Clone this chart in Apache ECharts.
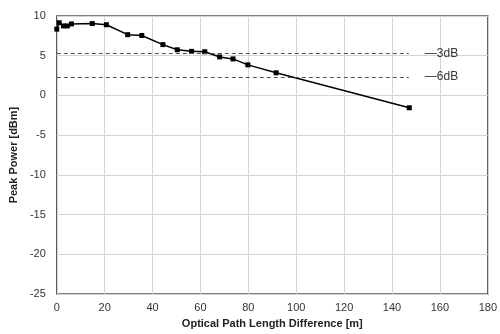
<!DOCTYPE html>
<html>
<head>
<meta charset="utf-8">
<script src="https://cdn.jsdelivr.net/npm/echarts@6/dist/echarts.min.js"></script>
<style>
  html, body { margin: 0; padding: 0; background: #fff; }
  #chart { width: 500px; height: 334px; }
</style>
</head>
<body>
<div id="chart"></div>
<script>
const pathDiff = [0, 1, 2.8, 4.4, 6.1, 14.8, 20.7, 29.6, 35.5, 44.3, 50.3, 56.3, 61.8, 68, 73.6, 79.8, 91.6, 147.2];
const peakPower = [8.35, 9.15, 8.75, 8.75, 9.0, 9.05, 8.9, 7.65, 7.55, 6.4, 5.75, 5.55, 5.5, 4.85, 4.6, 3.85, 2.85, -1.55];
const refLevels = [5.3, 2.3];
const refLabels = ["\u20143dB", "\u20146dB"];
const refEndX = 147;

const chart = echarts.init(document.getElementById("chart"));

const refLines = refLevels.map((v, i) => [
  { coord: [0, v] },
  { coord: [refEndX, v], label: { formatter: refLabels[i] } },
]);

const option = {
  animation: false,
  textStyle: { fontFamily: "Liberation Sans, Arial, sans-serif" },
  grid: {
    left: 56,
    right: 10,
    top: 16,
    bottom: 38,
    show: true,
    borderColor: "#555",
    borderWidth: 1.5,
  },
  xAxis: {
    type: "value",
    min: 0,
    max: 180,
    interval: 20,
    name: "Optical Path Length Difference [m]",
    nameLocation: "middle",
    nameGap: 22,
    nameTextStyle: { fontWeight: "bold", fontSize: 11, color: "#222" },
    axisLine: { show: false },
    axisTick: { show: false },
    axisLabel: { fontSize: 11, color: "#333", margin: 8 },
    splitLine: { show: true, lineStyle: { color: "#d4d4d4", width: 1 } },
  },
  yAxis: {
    type: "value",
    min: -25,
    max: 10,
    interval: 5,
    name: "Peak Power [dBm]",
    nameLocation: "middle",
    nameGap: 33,
    nameTextStyle: { fontWeight: "bold", fontSize: 11, color: "#222" },
    axisLine: { show: false },
    axisTick: { show: false },
    axisLabel: { fontSize: 11, color: "#333", margin: 11 },
    splitLine: { show: true, lineStyle: { color: "#d4d4d4", width: 1 } },
  },
  series: [
    {
      type: "line",
      data: pathDiff.map((x, i) => [x, peakPower[i]]),
      symbol: "rect",
      symbolSize: 5,
      showAllSymbol: true,
      lineStyle: { color: "#000", width: 1.5 },
      itemStyle: { color: "#000" },
      markLine: {
        silent: true,
        symbol: "none",
        lineStyle: { color: "#555", type: [4, 3], width: 1 },
        label: {
          show: true,
          position: "end",
          distance: 16,
          fontSize: 12,
          color: "#333",
        },
        data: refLines,
      },
    },
  ],
};

chart.setOption(option);
</script>
</body>
</html>
